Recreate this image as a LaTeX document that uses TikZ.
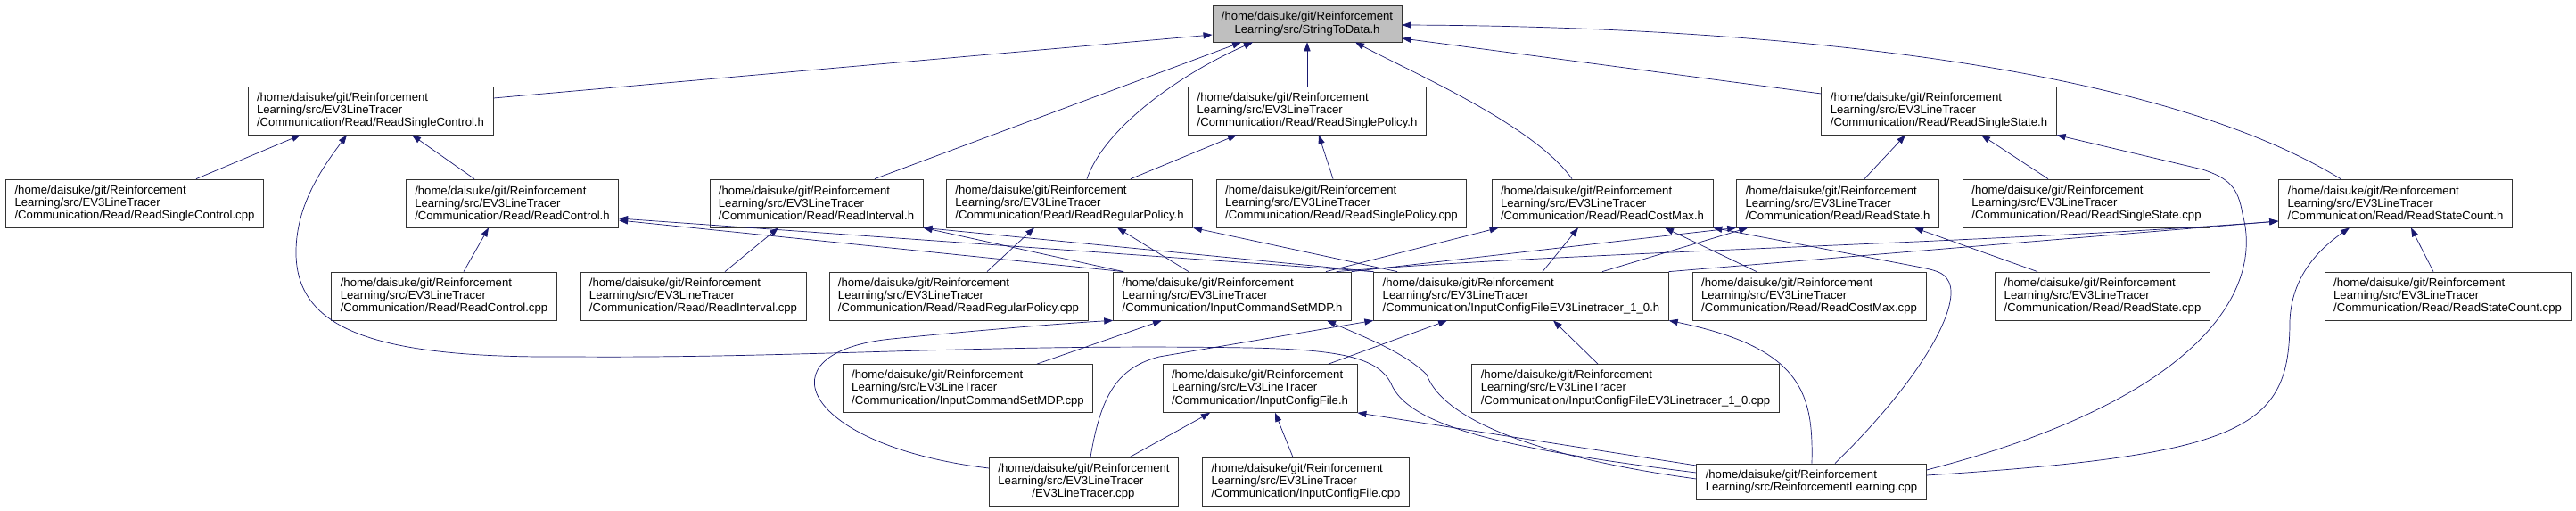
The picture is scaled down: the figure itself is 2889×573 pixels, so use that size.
\documentclass[tikz,border=0pt]{standalone}
\usepackage{fontspec}
\setmainfont{Liberation Sans}
\usetikzlibrary{arrows.meta,calc}
\definecolor{edgeblue}{RGB}{25,25,112}

\begin{document}
\begin{tikzpicture}[x=0.25mm,y=-0.25mm,
  filebox/.style={draw=black!80,fill=white,line width=0.55pt,align=left,inner xsep=2.5mm,inner ysep=0pt,minimum height=13.5mm,font=\fontsize{9.35pt}{10.17pt}\selectfont},
  rootbox/.style={filebox,minimum height=10.25mm,fill=black!25,align=center},
  rlbox/.style={filebox,minimum height=10mm},
  dep/.style={draw=edgeblue,line width=0.5pt,-{Triangle[length=2.5mm,width=1.8mm]}}]
  \useasboundingbox (0,0) rectangle (2889,573);
  \node[rootbox] (stringtodata) at (1466,26.5) {/home/daisuke/git/Reinforcement\\Learning/src/StringToData.h};
  \node[filebox] (singlecontrolh) at (415.5,124) {/home/daisuke/git/Reinforcement\\Learning/src/EV3LineTracer\\/Communication/Read/ReadSingleControl.h};
  \node[filebox] (singlepolicyh) at (1466,124) {/home/daisuke/git/Reinforcement\\Learning/src/EV3LineTracer\\/Communication/Read/ReadSinglePolicy.h};
  \node[filebox] (singlestateh) at (2174.5,124) {/home/daisuke/git/Reinforcement\\Learning/src/EV3LineTracer\\/Communication/Read/ReadSingleState.h};
  \node[filebox] (singlecontrolcpp) at (151,228) {/home/daisuke/git/Reinforcement\\Learning/src/EV3LineTracer\\/Communication/Read/ReadSingleControl.cpp};
  \node[filebox] (controlh) at (574.5,228) {/home/daisuke/git/Reinforcement\\Learning/src/EV3LineTracer\\/Communication/Read/ReadControl.h};
  \node[filebox] (intervalh) at (915.5,228) {/home/daisuke/git/Reinforcement\\Learning/src/EV3LineTracer\\/Communication/Read/ReadInterval.h};
  \node[filebox] (regularpolicyh) at (1199.5,228) {/home/daisuke/git/Reinforcement\\Learning/src/EV3LineTracer\\/Communication/Read/ReadRegularPolicy.h};
  \node[filebox] (singlepolicycpp) at (1504.5,228) {/home/daisuke/git/Reinforcement\\Learning/src/EV3LineTracer\\/Communication/Read/ReadSinglePolicy.cpp};
  \node[filebox] (costmaxh) at (1797,228) {/home/daisuke/git/Reinforcement\\Learning/src/EV3LineTracer\\/Communication/Read/ReadCostMax.h};
  \node[filebox] (stateh) at (2061,228) {/home/daisuke/git/Reinforcement\\Learning/src/EV3LineTracer\\/Communication/Read/ReadState.h};
  \node[filebox] (singlestatecpp) at (2340,228) {/home/daisuke/git/Reinforcement\\Learning/src/EV3LineTracer\\/Communication/Read/ReadSingleState.cpp};
  \node[filebox] (statecounth) at (2686.5,228) {/home/daisuke/git/Reinforcement\\Learning/src/EV3LineTracer\\/Communication/Read/ReadStateCount.h};
  \node[filebox] (controlcpp) at (498,332) {/home/daisuke/git/Reinforcement\\Learning/src/EV3LineTracer\\/Communication/Read/ReadControl.cpp};
  \node[filebox] (intervalcpp) at (777.5,332) {/home/daisuke/git/Reinforcement\\Learning/src/EV3LineTracer\\/Communication/Read/ReadInterval.cpp};
  \node[filebox] (regularpolicycpp) at (1075,332) {/home/daisuke/git/Reinforcement\\Learning/src/EV3LineTracer\\/Communication/Read/ReadRegularPolicy.cpp};
  \node[filebox] (cmdsetmdph) at (1382,332) {/home/daisuke/git/Reinforcement\\Learning/src/EV3LineTracer\\/Communication/InputCommandSetMDP.h};
  \node[filebox] (cfgev3h) at (1706,332) {/home/daisuke/git/Reinforcement\\Learning/src/EV3LineTracer\\/Communication/InputConfigFileEV3Linetracer\_1\_0.h};
  \node[filebox] (costmaxcpp) at (2029,332) {/home/daisuke/git/Reinforcement\\Learning/src/EV3LineTracer\\/Communication/Read/ReadCostMax.cpp};
  \node[filebox] (statecpp) at (2358,332) {/home/daisuke/git/Reinforcement\\Learning/src/EV3LineTracer\\/Communication/Read/ReadState.cpp};
  \node[filebox] (statecountcpp) at (2745,332) {/home/daisuke/git/Reinforcement\\Learning/src/EV3LineTracer\\/Communication/Read/ReadStateCount.cpp};
  \node[filebox] (cmdsetmdpcpp) at (1085.5,435.5) {/home/daisuke/git/Reinforcement\\Learning/src/EV3LineTracer\\/Communication/InputCommandSetMDP.cpp};
  \node[filebox] (cfgfileh) at (1413,435.5) {/home/daisuke/git/Reinforcement\\Learning/src/EV3LineTracer\\/Communication/InputConfigFile.h};
  \node[filebox] (cfgev3cpp) at (1823,435.5) {/home/daisuke/git/Reinforcement\\Learning/src/EV3LineTracer\\/Communication/InputConfigFileEV3Linetracer\_1\_0.cpp};
  \node[filebox] (ev3cpp) at (1215.5,540) {/home/daisuke/git/Reinforcement\\Learning/src/EV3LineTracer\\\hspace*{9.5mm}/EV3LineTracer.cpp};
  \node[filebox] (cfgfilecpp) at (1464.5,540) {/home/daisuke/git/Reinforcement\\Learning/src/EV3LineTracer\\/Communication/InputConfigFile.cpp};
  \node[rlbox] (rlcpp) at (2031.5,540) {/home/daisuke/git/Reinforcement\\Learning/src/ReinforcementLearning.cpp};
  % StringToData.h
  \draw[dep] ($(singlecontrolh.east)+(0,-14)$) -- ($(stringtodata.west)+(0,12.5)$);
  \draw[dep] (singlepolicyh.north) -- (stringtodata.south);
  \draw[dep] ($(singlestateh.west)+(0,-19)$) -- ($(stringtodata.east)+(0,16.5)$);
  \draw[dep] ($(statecounth.north)+(-61.5,0)$) .. controls (2420,75) and (2000,30) .. ($(stringtodata.east)+(0,1.5)$);
  \draw[dep] ($(intervalh.north)+(65.5,0)$) -- ($(stringtodata.south)+(-74,0)$);
  \draw[dep] ($(regularpolicyh.north)+(19.5,0)$) .. controls (1240,140) and (1330,80) .. ($(stringtodata.south)+(-61,0)$);
  \draw[dep] ($(costmaxh.north)+(-34,0)$) .. controls (1720,140) and (1585,82) .. ($(stringtodata.south)+(54,0)$);
  % ReadSingle*.h
  \draw[dep] ($(singlecontrolcpp.north)+(69,0)$) -- ($(singlecontrolh.south)+(-78.5,0)$);
  \draw[dep] ($(controlh.north)+(-42.5,0)$) -- ($(singlecontrolh.south)+(46.5,0)$);
  \draw[dep] ($(rlcpp.west)+(0,-10)$) .. controls (1700,505) and (1580,480) .. (1560,430) .. controls (1545,400) and (1500,392) .. (1400,390) .. controls (1100,385) and (900,402) .. (640,400) .. controls (420,402) and (330,370) .. (332,280) .. controls (333,230) and (360,190) .. ($(singlecontrolh.south)+(-26.5,0)$);
  \draw[dep] ($(regularpolicyh.north)+(68.5,0)$) -- ($(singlepolicyh.south)+(-79,0)$);
  \draw[dep] ($(singlepolicycpp.north)+(-9.5,0)$) -- ($(singlepolicyh.south)+(13,0)$);
  \draw[dep] ($(stateh.north)+(30,0)$) -- ($(singlestateh.south)+(-37.5,0)$);
  \draw[dep] ($(singlestatecpp.north)+(-43,0)$) -- ($(singlestateh.south)+(47.5,0)$);
  \draw[dep] ($(rlcpp.east)+(0,-13)$) .. controls (2460,450) and (2540,330) .. (2515,240) .. controls (2510,210) and (2500,200) .. (2470,190) -- (singlestateh.south east);
  % Read*.h
  \draw[dep] ($(controlcpp.north)+(22,0)$) -- ($(controlh.south)+(-26.5,0)$);
  \draw[dep] ($(cmdsetmdph.north)+(-122,0)$) -- ($(controlh.east)+(0,19)$);
  \draw[dep] (cfgev3h.north west) -- ($(controlh.east)+(0,17)$);
  \draw[dep] ($(intervalcpp.north)+(35.5,0)$) -- ($(intervalh.south)+(-42.5,0)$);
  \draw[dep] ($(cmdsetmdph.north)+(-122,0)$) -- (intervalh.south east);
  \draw[dep] (cfgev3h.north west) -- (intervalh.south east);
  \draw[dep] ($(regularpolicycpp.north)+(32,0)$) -- ($(regularpolicyh.south)+(-39.5,0)$);
  \draw[dep] ($(cmdsetmdph.north)+(-49,0)$) -- ($(regularpolicyh.south)+(53.5,0)$);
  \draw[dep] ($(cfgev3h.north)+(-139,0)$) -- (regularpolicyh.south east);
  \draw[dep] ($(cmdsetmdph.north)+(105,0)$) -- ($(costmaxh.south west)+(8,0)$);
  \draw[dep] ($(cfgev3h.north)+(24,0)$) -- ($(costmaxh.south)+(-27,0)$);
  \draw[dep] ($(costmaxcpp.north)+(-59,0)$) -- ($(costmaxh.south)+(70,0)$);
  \draw[dep] ($(rlcpp.north)+(26.5,0)$) .. controls (2160,420) and (2200,340) .. (2185,315) .. controls (2180,305) and (2170,303) .. (2150,299) -- (costmaxh.south east);
  \draw[dep] (cmdsetmdph.north east) -- (stateh.south west);
  \draw[dep] ($(cfgev3h.north)+(91,0)$) -- ($(stateh.south west)+(13,0)$);
  \draw[dep] ($(statecpp.north)+(-73,0)$) -- ($(stateh.south)+(86,0)$);
  \draw[dep] ($(cmdsetmdph.north east)+(-17,0)$) .. controls (1750,283) and (2250,272) .. ($(statecounth.west)+(0,20)$);
  \draw[dep] (cfgev3h.north east) -- ($(statecounth.west)+(0,20)$);
  \draw[dep] ($(statecountcpp.north)+(-16,0)$) -- ($(statecounth.south)+(17.5,0)$);
  \draw[dep] ($(rlcpp.east)+(0,-7)$) .. controls (2520,510) and (2568,480) .. (2568,360) .. controls (2570,310) and (2600,280) .. ($(statecounth.south)+(-51.5,0)$);
  % Input*.h
  \draw[dep] ($(cmdsetmdpcpp.north)+(77.5,0)$) -- ($(cmdsetmdph.south)+(-79,0)$);
  \draw[dep] ($(ev3cpp.west)+(0,-15)$) .. controls (900,500) and (850,395) .. (1000,380) .. controls (1100,370) and (1200,362) .. (cmdsetmdph.south west);
  \draw[dep] ($(rlcpp.west)+(0,-3)$) .. controls (1740,515) and (1620,475) .. (1600,420) .. controls (1575,395) and (1530,378) .. ($(cmdsetmdph.south)+(106,0)$);
  \draw[dep] ($(cfgfileh.north)+(77,0)$) -- ($(cfgev3h.south)+(-83,0)$);
  \draw[dep] ($(cfgev3cpp.north)+(-31,0)$) -- ($(cfgev3h.south)+(36,0)$);
  \draw[dep] ($(ev3cpp.north)+(7.5,0)$) .. controls (1235,440) and (1255,412) .. (1300,400) -- (cfgev3h.south west);
  \draw[dep] ($(rlcpp.north)+(0.5,0)$) .. controls (2034,440) and (2020,390) .. (cfgev3h.south east);
  \draw[dep] ($(ev3cpp.north)+(51.5,0)$) -- ($(cfgfileh.south)+(-56,0)$);
  \draw[dep] ($(cfgfilecpp.north)+(-14.5,0)$) -- ($(cfgfileh.south)+(17,0)$);
  \draw[dep] ($(rlcpp.west)+(0,-18)$) -- (cfgfileh.south east);
\end{tikzpicture}
\end{document}
